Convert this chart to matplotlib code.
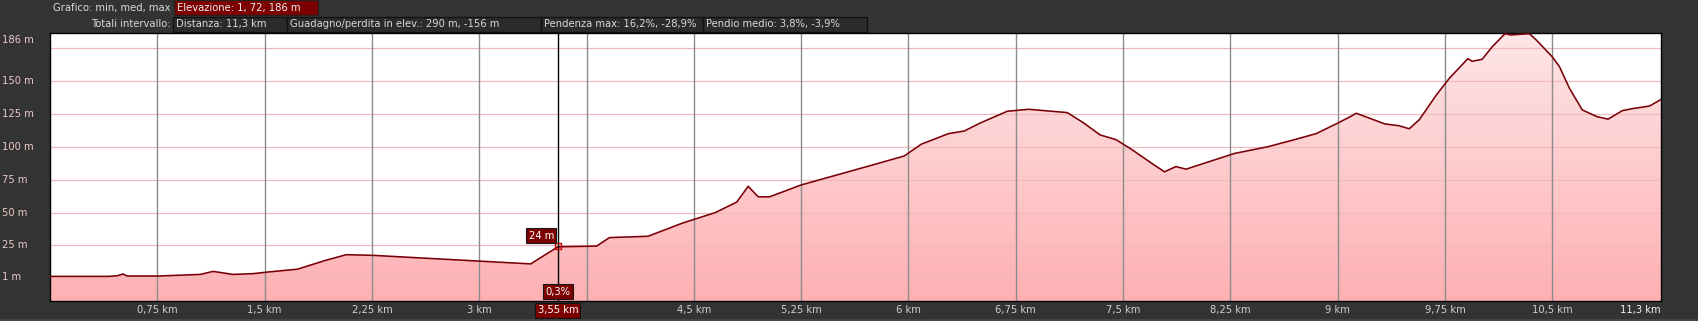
import numpy as np
import matplotlib
matplotlib.use("Agg")
import matplotlib.pyplot as plt
from matplotlib.patches import Rectangle
from matplotlib.colors import LinearSegmentedColormap
from matplotlib.transforms import blended_transform_factory

plt.rcParams['font.family'] = ['DejaVu Sans']

# elevation profile (km, m)
dist_km = [0.0, 0.41, 0.47, 0.51, 0.54, 0.76, 1.05, 1.14, 1.28, 1.42, 1.52, 1.73,
           1.92, 2.07, 2.26, 2.68, 3.02, 3.36, 3.55, 3.82, 3.91, 4.18, 4.42, 4.65,
           4.80, 4.88, 4.95, 5.03, 5.25, 5.48, 5.71, 5.97, 6.09, 6.28, 6.39, 6.50,
           6.69, 6.84, 7.11, 7.22, 7.34, 7.45, 7.56, 7.72, 7.79, 7.87, 7.94, 8.28,
           8.51, 8.70, 8.85, 9.0, 9.09, 9.13, 9.33, 9.43, 9.50, 9.57, 9.69, 9.78,
           9.91, 9.94, 10.01, 10.08, 10.17, 10.21, 10.34, 10.39, 10.50, 10.55, 10.62,
           10.71, 10.81, 10.89, 10.99, 11.06, 11.18, 11.26]
elev_m = [1.5, 1.5, 2.0, 3.3, 1.8, 1.8, 3.0, 5.3, 3.0, 3.6, 4.8, 7.0,
          13.5, 18.0, 17.5, 15.0, 13.0, 11.0, 24.0, 24.5, 31.0, 32.0, 42.0, 50.0,
          58.0, 70.0, 62.0, 62.0, 71.0, 78.0, 85.0, 93.0, 102.0, 110.0, 112.0, 118.0,
          127.0, 128.5, 126.0, 118.5, 109.0, 105.5, 98.0, 86.0, 81.0, 85.0, 83.0, 95.0,
          100.0, 105.5, 110.0, 118.0, 123.0, 125.5, 117.4, 116.0, 113.7, 120.5, 139.4, 152.0,
          167.0, 165.0, 166.5, 176.0, 186.0, 185.0, 186.0, 181.0, 168.4, 161.0, 144.5,
          128.0, 123.0, 121.0, 127.5, 129.0, 131.0, 136.0]

total_km = 11.26
x_grid = [0.75, 1.5, 2.25, 3.0, 3.75, 4.5, 5.25, 6.0, 6.75, 7.5, 8.25, 9.0, 9.75, 10.5]
x_labels = ["0,75 km", "1,5 km", "2,25 km", "3 km", "", "4,5 km", "5,25 km", "6 km",
            "6,75 km", "7,5 km", "8,25 km", "9 km", "9,75 km", "10,5 km"]
y_grid = [1, 25, 50, 75, 100, 125, 150, 175]
y_labels = ["1 m", "25 m", "50 m", "75 m", "100 m", "125 m", "150 m", ""]

cursor_km = 3.55
cursor_m = 24
cursor_slope = "0,3%"

BG = "#333333"
LINE = "#7a0008"
DARKRED = "#7d0000"
FS = 7.2

W, H = 1699, 321
fig = plt.figure(figsize=(W / 100, H / 100), dpi=100)
fig.patch.set_facecolor(BG)

# main plot area: x 50..1661, y 33..301 px
ax = fig.add_axes([50 / W, (H - 301) / H, 1611 / W, 268 / H])
ax.set_facecolor("white")
ymin, ymax = -17.2, 186.5
ax.set_xlim(0, total_km)
ax.set_ylim(ymin, ymax)

# gradient fill under the profile
cmap = LinearSegmentedColormap.from_list("pk", ["#ffb0b3", "#fde6e7"])
grad = np.linspace(0, 1, 256).reshape(-1, 1)
img = ax.imshow(grad, cmap=cmap, origin="lower", aspect="auto",
                extent=[0, total_km, ymin, ymax], zorder=1)
poly = ax.fill_between(dist_km, elev_m, ymin, color="none", lw=0)
clip = poly.get_paths()[0]
img.set_clip_path(clip, transform=ax.transData)

for v in y_grid:
    ax.axhline(v, color="#f0b9bc", lw=0.9, zorder=2)
for v in x_grid:
    ax.axvline(v, color="#8c8c8c", lw=1.0, zorder=2)

ax.plot(dist_km, elev_m, color=LINE, lw=1.15, zorder=4)

# cursor
ax.axvline(cursor_km, color="black", lw=1.0, zorder=5)
ax.plot([cursor_km], [cursor_m + 0.5], marker="s", ms=5, mfc="none", mec="#c00000",
        mew=1.0, zorder=6)
box = dict(boxstyle="square,pad=0.22", fc=DARKRED, ec="#1a1a1a", lw=0.8)
ax.annotate(f"{cursor_m} m", (cursor_km, cursor_m), xytext=(-12, 8),
            textcoords="offset points", ha="center", va="center",
            color="white", fontsize=FS, bbox=box, zorder=7)
ax.text(cursor_km, 0.035, cursor_slope, transform=ax.get_xaxis_transform(),
        ha="center", va="center", color="white", fontsize=FS, bbox=box, zorder=7)

ax.set_xticks([])
ax.set_yticks([])
for s in ax.spines.values():
    s.set_color("black")
    s.set_linewidth(1.0)

# labels outside plot
for v, lab in zip(x_grid, x_labels):
    if lab:
        ax.text(v, -0.035, lab, transform=ax.get_xaxis_transform(), ha="center",
                va="center", color="#cfcfcf", fontsize=FS, clip_on=False)
ax.text(total_km, -0.035, "11,3 km", transform=ax.get_xaxis_transform(), ha="right",
        va="center", color="#f4f4f4", fontsize=FS, clip_on=False)
ax.text(cursor_km, -0.035, "3,55 km", transform=ax.get_xaxis_transform(), ha="center",
        va="center", color="white", fontsize=FS, clip_on=False, zorder=8,
        bbox=dict(boxstyle="square,pad=0.22", fc=DARKRED, ec="#111111", lw=0.8))

ytrans = blended_transform_factory(fig.transFigure, ax.transData)
for v, lab in zip(y_grid, y_labels):
    if lab:
        fig.text(2 / W, v, lab, transform=ytrans, ha="left",
                 va="center", color="#ecc9c9", fontsize=FS)
fig.text(2 / W, (H - 40) / H, "186 m", ha="left", va="center", color="#ecc9c9",
         fontsize=FS)

# header boxes, drawn in pixel coords
ov = fig.add_axes([0, 0, 1, 1], zorder=-1)
ov.set_xlim(0, W)
ov.set_ylim(H, 0)
ov.axis("off")

ov.text(171, 7.5, "Grafico: min, med, max", ha="right", va="center",
        color="#d8d8d8", fontsize=FS)
ov.add_patch(Rectangle((174, 0), 144, 15, fc=DARKRED, ec="#222222", lw=0.8))
ov.text(177, 7.5, "Elevazione: 1, 72, 186 m", ha="left", va="center",
        color="#eeeeee", fontsize=FS)

ov.text(171, 24, "Totali intervallo:", ha="right", va="center",
        color="#d8d8d8", fontsize=FS)
header = [(173, 287, "Distanza: 11,3 km"),
          (287, 541, "Guadagno/perdita in elev.: 290 m, -156 m"),
          (541, 703, "Pendenza max: 16,2%, -28,9%"),
          (703, 867, "Pendio medio: 3,8%, -3,9%")]
for x0, x1, txt in header:
    ov.add_patch(Rectangle((x0, 16.5), x1 - x0, 15, fc="#2b2b2b", ec="#111111", lw=0.9))
    ov.text(x0 + 3, 24, txt, ha="left", va="center", color="#d8d8d8", fontsize=FS)

ov.add_patch(Rectangle((0, 318.5), W, 3, fc="#444444", ec="none"))

fig.savefig("out.png", dpi=100, facecolor=BG)
